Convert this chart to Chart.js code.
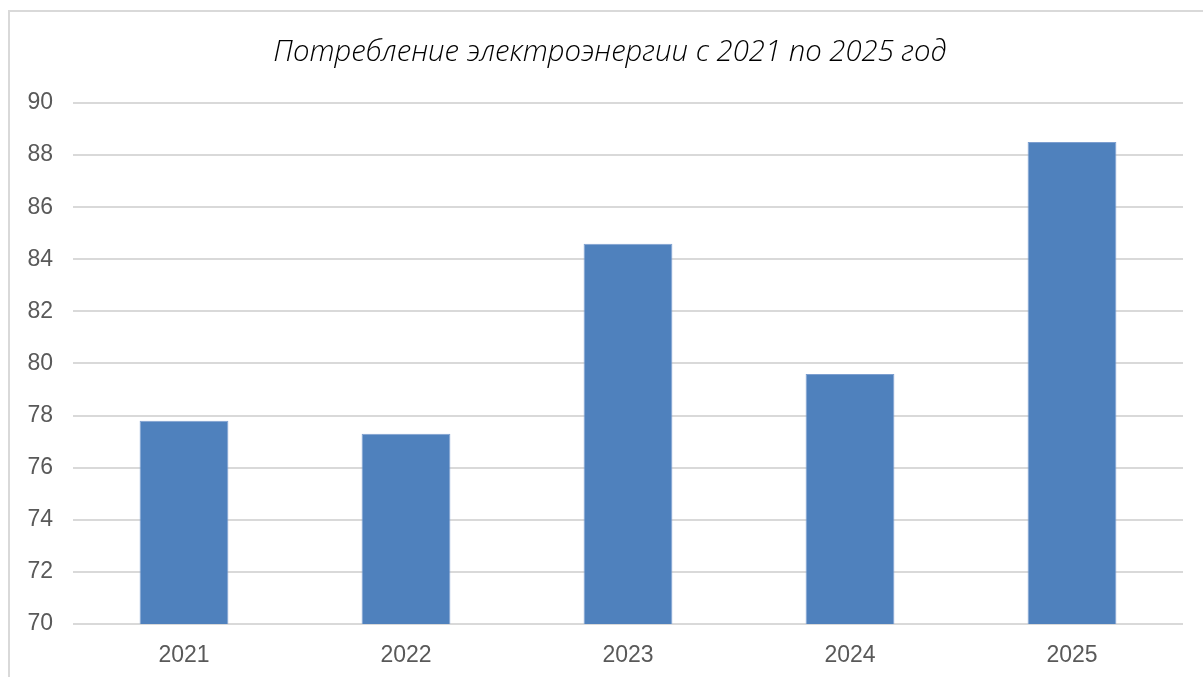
<!DOCTYPE html>
<html>
<head>
<meta charset="utf-8">
<script src="https://cdn.jsdelivr.net/npm/chart.js@4/dist/chart.umd.min.js"></script>
<style>
  body { margin: 0; background: #fff; overflow: hidden; }
  #frame {
    position: absolute; left: 8px; top: 10px;
    width: 1400px; height: 900px;
    border: 2px solid #d9d9d9; box-sizing: border-box;
  }
  #myBarChart { position: absolute; left: 0; top: 0; }
</style>
</head>
<body>
<div id="frame"></div>
<canvas id="myBarChart" width="1203" height="677"></canvas>
<script>
const years = ["2021", "2022", "2023", "2024", "2025"];
const consumption = [77.8, 77.3, 84.6, 79.6, 88.5];
const yMin = 70;
const yMax = 90;
const yStep = 2;

// nudge the title box so its centre sits where the original one is
const shiftTitle = {
  id: "shiftTitle",
  afterLayout(chart) {
    if (chart.titleBlock) chart.titleBlock.left = 37;
  },
};

const ctx = document.getElementById("myBarChart").getContext("2d");
const myBarChart = new Chart(ctx, {
  type: "bar",
  data: {
    labels: years,
    datasets: [
      {
        label: "Потребление",
        data: consumption,
        backgroundColor: "#4F81BD",
        borderColor: "#7d9fd0",
        borderWidth: 1,
        barPercentage: 0.4,
        categoryPercentage: 1,
      },
    ],
  },
  plugins: [shiftTitle],
  options: {
    responsive: false,
    animation: false,
    layout: { padding: { left: 0, right: 20, top: 0, bottom: 0 } },
    scales: {
      y: {
        min: yMin,
        max: yMax,
        ticks: {
          stepSize: yStep,
          color: "#595959",
          padding: 20,
          font: { family: "'Liberation Sans', Arial, sans-serif", size: 23 },
        },
        grid: {
          color: "#d9d9d9",
          lineWidth: 2,
          drawTicks: false,
        },
        border: { display: false },
        afterFit: (scale) => { scale.width = 73; },
      },
      x: {
        ticks: {
          color: "#595959",
          padding: 18,
          font: { family: "'Liberation Sans', Arial, sans-serif", size: 23 },
        },
        grid: { display: false, drawTicks: false },
        border: { display: false },
        afterFit: (scale) => { scale.height = 53; },
      },
    },
    plugins: {
      legend: { display: false },
      tooltip: { enabled: false },
      title: {
        display: true,
        text: "Потребление электроэнергии с 2021 по 2025 год",
        color: "#000000",
        font: { family: "'Open Sans', sans-serif", size: 29.3, style: "italic", weight: "300", lineHeight: 1.2 },
        padding: { top: 35, bottom: 32.8 },
      },
    },
  },
});
</script>
</body>
</html>
